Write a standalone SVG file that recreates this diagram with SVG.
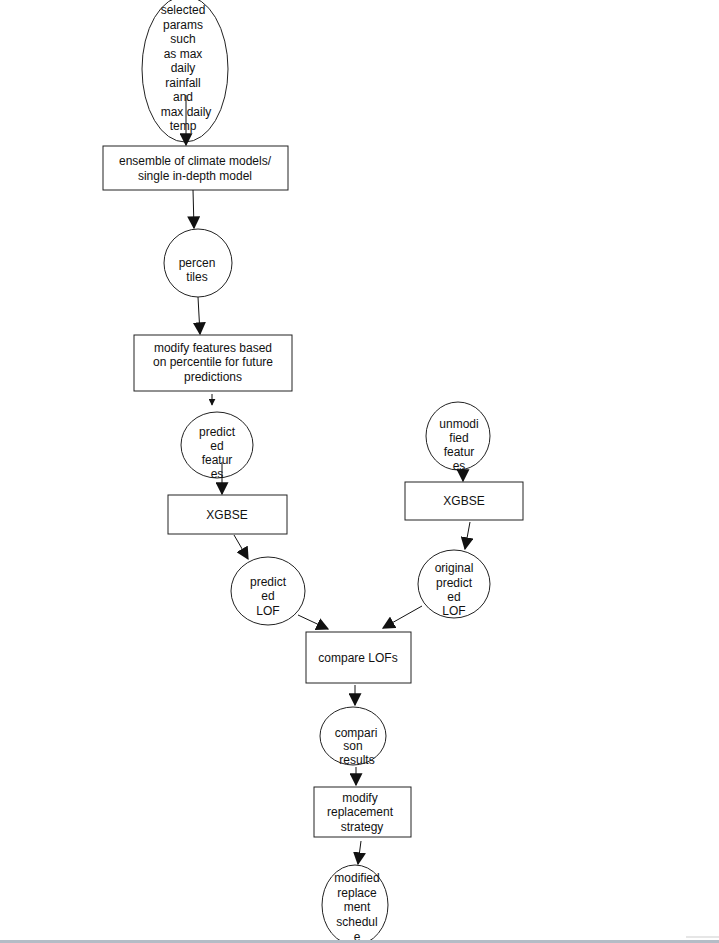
<svg xmlns="http://www.w3.org/2000/svg" width="719" height="943" viewBox="0 0 719 943">
<style>
.n{fill:#fff;stroke:#222;stroke-width:1}
.t{font-family:"Liberation Sans",Arial,sans-serif;font-size:12px;fill:#111;text-anchor:middle}
.c{stroke:#111;stroke-width:1;fill:none}
</style>
<defs>
<marker id="a" viewBox="0 0 10 10" refX="9" refY="5" markerWidth="13" markerHeight="13" markerUnits="userSpaceOnUse" orient="auto">
<path d="M0,0 L10,5 L0,10 z" fill="#111"/>
</marker>
<marker id="s" viewBox="0 0 10 10" refX="9" refY="5" markerWidth="7" markerHeight="7" markerUnits="userSpaceOnUse" orient="auto">
<path d="M0,0 L10,5 L0,10 z" fill="#111"/>
</marker>
</defs>
<rect width="719" height="943" fill="#fff"/>

<g id="params">
<ellipse class="n" cx="185" cy="69" rx="43" ry="73"/>
<text class="t"><tspan x="183" y="14">selected</tspan><tspan x="183" y="29">params</tspan><tspan x="183" y="43">such</tspan><tspan x="183" y="58">as max</tspan><tspan x="183" y="72">daily</tspan><tspan x="183" y="87">rainfall</tspan><tspan x="183" y="101">and</tspan><tspan x="186" y="116">max daily</tspan><tspan x="183" y="130">temp</tspan></text>
</g>
<g id="ensemble">
<rect class="n" x="103" y="146" width="185" height="44"/>
<text class="t"><tspan x="195" y="165">ensemble of climate models/</tspan><tspan x="195" y="180">single in-depth model</tspan></text>
</g>
<g id="percentiles">
<circle class="n" cx="198" cy="263" r="34"/>
<text class="t"><tspan x="197" y="267">percen</tspan><tspan x="197" y="281">tiles</tspan></text>
</g>
<g id="modify-features">
<rect class="n" x="134" y="335" width="158" height="56"/>
<text class="t"><tspan x="213" y="352">modify features based</tspan><tspan x="213" y="366">on percentile for future</tspan><tspan x="213" y="381">predictions</tspan></text>
</g>
<g id="predicted-features">
<ellipse class="n" cx="217" cy="445" rx="36" ry="33"/>
<text class="t"><tspan x="217" y="436">predict</tspan><tspan x="217" y="450">ed</tspan><tspan x="217" y="464">featur</tspan><tspan x="217" y="478">es</tspan></text>
</g>
<g id="xgbse-left">
<rect class="n" x="168" y="495" width="119" height="39"/>
<text class="t" x="227" y="519">XGBSE</text>
</g>
<g id="predicted-lof">
<ellipse class="n" cx="268" cy="591" rx="37" ry="34"/>
<text class="t"><tspan x="268" y="586">predict</tspan><tspan x="268" y="600">ed</tspan><tspan x="268" y="615">LOF</tspan></text>
</g>
<g id="unmodified-features">
<ellipse class="n" cx="458" cy="436" rx="32" ry="34"/>
<text class="t"><tspan x="459" y="428">unmodi</tspan><tspan x="459" y="442">fied</tspan><tspan x="459" y="456">featur</tspan><tspan x="459" y="470">es</tspan></text>
</g>
<g id="xgbse-right">
<rect class="n" x="405" y="482" width="118" height="38"/>
<text class="t" x="464" y="505">XGBSE</text>
</g>
<g id="original-lof">
<ellipse class="n" cx="454" cy="584" rx="36" ry="34"/>
<text class="t"><tspan x="454" y="572">original</tspan><tspan x="454" y="587">predict</tspan><tspan x="454" y="601">ed</tspan><tspan x="454" y="615">LOF</tspan></text>
</g>
<g id="compare">
<rect class="n" x="306" y="632" width="105" height="51"/>
<text class="t" x="358" y="662">compare LOFs</text>
</g>
<g id="comparison-results">
<ellipse class="n" cx="353" cy="736" rx="33" ry="29"/>
<text class="t"><tspan x="356" y="737">compari</tspan><tspan x="353" y="750">son</tspan><tspan x="357" y="764">results</tspan></text>
</g>
<g id="modify-strategy">
<rect class="n" x="314" y="787" width="97" height="50"/>
<text class="t"><tspan x="360" y="802">modify</tspan><tspan x="360" y="816">replacement</tspan><tspan x="362" y="831">strategy</tspan></text>
</g>
<g id="modified-schedule">
<ellipse class="n" cx="355" cy="905" rx="33" ry="40"/>
<text class="t"><tspan x="357" y="882">modified</tspan><tspan x="357" y="897">replace</tspan><tspan x="357" y="911">ment</tspan><tspan x="357" y="926">schedul</tspan><tspan x="357" y="941">e</tspan></text>
</g>

<g id="connectors">
<path class="c" d="M186,95 L186,145" marker-end="url(#a)"/>
<path class="c" d="M193,190 L194,228" marker-end="url(#a)"/>
<path class="c" d="M198,297 L200,334" marker-end="url(#a)"/>
<path class="c" d="M212,394 L212,405" marker-end="url(#s)"/>
<path class="c" d="M222,462 L222,494" marker-end="url(#a)"/>
<path class="c" d="M234,535 L248,559" marker-end="url(#a)"/>
<path class="c" d="M463,468 L463,481" marker-end="url(#a)"/>
<path class="c" d="M470,522 L465,549" marker-end="url(#a)"/>
<path class="c" d="M298,615 L328,629" marker-end="url(#a)"/>
<path class="c" d="M422,606 L383,628" marker-end="url(#a)"/>
<path class="c" d="M355,685 L355,705" marker-end="url(#a)"/>
<path class="c" d="M356,767 L356,785" marker-end="url(#a)"/>
<path class="c" d="M361,841 L358,864" marker-end="url(#a)"/>
</g>

<rect x="0" y="940" width="719" height="3" fill="#b4bcc6"/>
<rect x="686" y="936" width="33" height="2" fill="#e6e6e6"/>
</svg>
